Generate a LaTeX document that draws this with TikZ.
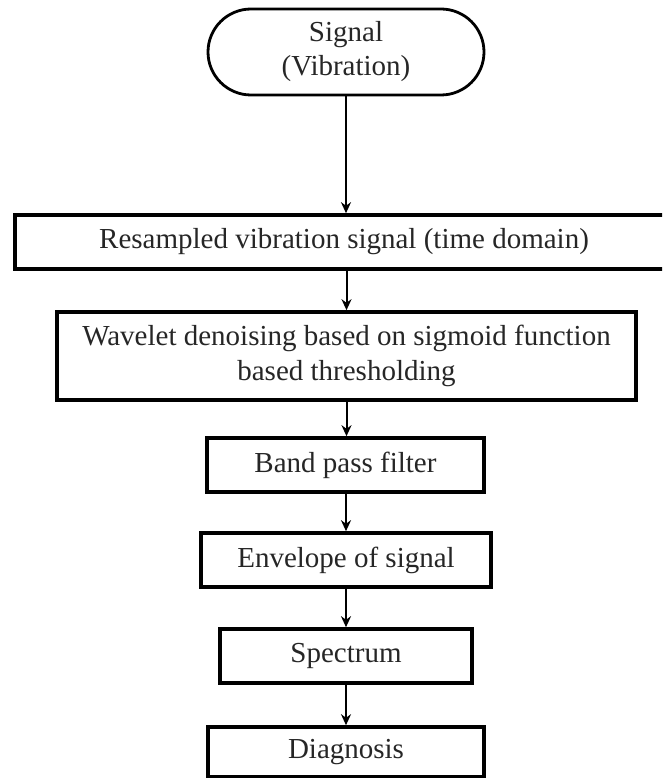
\documentclass[tikz,border=0pt]{standalone}
\usepackage{fontspec}
\setmainfont{Liberation Serif}
\usetikzlibrary{arrows.meta}
\begin{document}
\begin{tikzpicture}[x=1pt,y=-1pt,
  box/.style={draw=black,line width=3.6pt,minimum width=#1,inner sep=0pt,align=center,
    font=\fontsize{29}{35}\selectfont,text=black!85},
  term/.style={draw=black,line width=2.8pt,rounded corners=43pt,minimum width=276pt,minimum height=86pt,
    inner sep=0pt,align=center,font=\fontsize{29}{34}\selectfont,text=black!85},
  arr/.style={draw=black,line width=2pt,-{Stealth[length=11pt,width=10pt]}}]
\useasboundingbox (0,0) rectangle (662,778);
\clip (0,0) rectangle (662,778);
\node[term] (t) at (346,52) {Signal\\(Vibration)};
\node[box=658pt,minimum height=54pt] (b1) at (344,242) {Resampled vibration signal (time domain)};
\node[box=579pt,minimum height=88pt] (b2) at (346.5,356) {Wavelet denoising based on sigmoid function\\based thresholding};
\node[box=277pt,minimum height=54pt] (b3) at (345.5,465) {Band pass filter};
\node[box=290pt,minimum height=54pt] (b4) at (346,560) {Envelope of signal};
\node[box=252pt,minimum height=54pt] (b5) at (346,656) {Spectrum};
\node[box=276pt,minimum height=50pt] (b6) at (346,752) {Diagnosis};
\draw[arr] (t.south) -- (t.south |- b1.north);
\draw[arr] (b2.north |- b1.south) -- (b2.north);
\draw[arr] (b2.south) -- (b2.south |- b3.north);
\draw[arr] (b4.north |- b3.south) -- (b4.north);
\draw[arr] (b4.south) -- (b5.north);
\draw[arr] (b5.south) -- (b6.north);
\end{tikzpicture}
\end{document}
